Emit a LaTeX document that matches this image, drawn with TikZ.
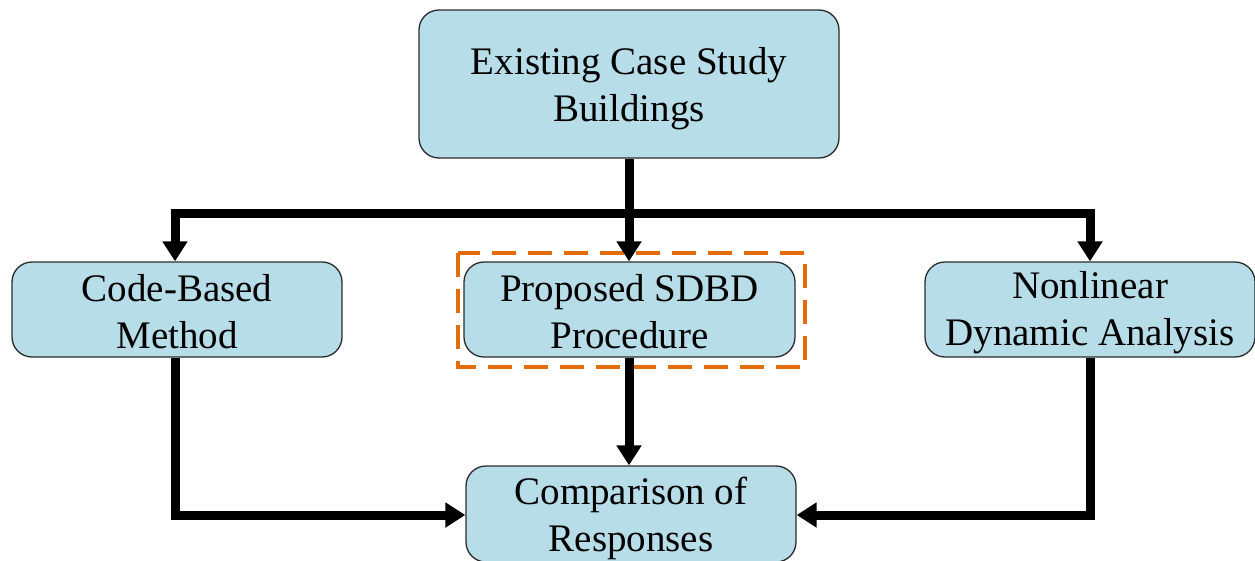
\documentclass[tikz,border=0pt]{standalone}
\usepackage{fontspec}
\setmainfont{Liberation Serif}
\usetikzlibrary{arrows.meta}
\definecolor{boxfill}{HTML}{B7DEE8}
\definecolor{boxedge}{HTML}{2B2B2B}
\definecolor{hilite}{HTML}{E46C0A}
\begin{document}
\begin{tikzpicture}[x=1pt,y=-1pt,
  stage/.style={draw=boxedge,line width=1.3pt,fill=boxfill,rounded corners=20pt,
    inner sep=0pt},
  caption/.style={align=center,inner sep=0pt,
    font=\fontsize{39}{47}\selectfont},
  flow/.style={line width=9pt,-{Triangle[width=24pt,length=20pt]}},
  link/.style={line width=9pt}]
\useasboundingbox (0,0) rectangle (1255,560);
% process boxes, captions set a little below the box centre
\node[stage,minimum width=420pt,minimum height=148pt,
  label={[caption,yshift=-5pt]center:{Existing Case Study\\Buildings}}] (src) at (629,84) {};
\node[stage,minimum width=330pt,minimum height=95pt,
  label={[caption,yshift=-2pt]center:{Code-Based\\Method}}] (code) at (177,309.5) {};
\node[stage,minimum width=331pt,minimum height=95pt,
  label={[caption,yshift=-2pt]center:{Proposed SDBD\\Procedure}}] (sdbd) at (629.5,309.5) {};
\node[stage,minimum width=330pt,minimum height=95pt,
  label={[caption,yshift=-3pt]center:{Nonlinear\\Dynamic Analysis}}] (nda) at (1090,309.5) {};
\node[stage,minimum width=330pt,minimum height=96pt,
  label={[caption,yshift=-4pt]center:{Comparison of\\Responses}}] (cmp) at (631,514) {};
% highlight frame around the proposed procedure
\draw[hilite,line width=4.5pt,dash pattern=on 24pt off 12pt] (458,253) rectangle (805,367);
% distribution from the case study buildings
\coordinate (split) at (629,213);
\draw[link] (src.south -| split) -- (split);
\draw[flow] (split) -- (sdbd.north -| split);
\draw[link,line cap=rect] (175,213) -- (1090,213);
\draw[flow] (175,213) -- (code.north -| 175,0);
\draw[flow] (1090,213) -- (nda.north -| 1090,0);
% convergence to the comparison
\draw[flow] (code.south -| 175,0) |- (cmp.west |- 0,515);
\draw[flow] (sdbd.south -| 629,0) -- (cmp.north -| 629,0);
\draw[flow] (nda.south -| 1090,0) |- (cmp.east |- 0,515);
\end{tikzpicture}
\end{document}
